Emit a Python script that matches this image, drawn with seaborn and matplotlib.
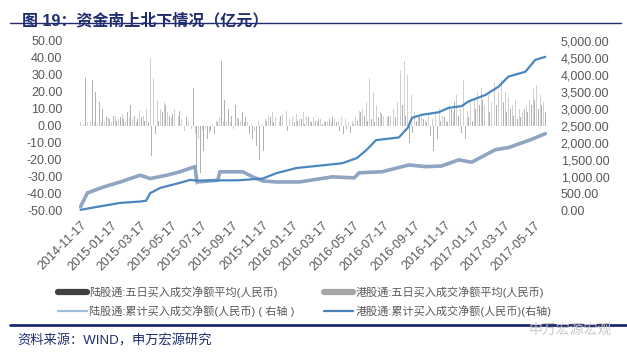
import numpy as np
import pandas as pd
import matplotlib
matplotlib.use("Agg")
import matplotlib.pyplot as plt
import matplotlib.dates as mdates
from matplotlib.lines import Line2D
from matplotlib.ticker import FuncFormatter, MultipleLocator
import seaborn as sns

# five-day average net buying (亿元), one reading per week
week_start = "2014-11-17"
north_avg = [30, 28, 31, 27, 20, 14, 10,
             5, 4, 6, 3, 5, 4,
             8, 12, 6, 4, 5, 3, 2,
             -18,
             -5, 3, 8, 12, 6,
             7, 12, 9, 4,
             5, 24, 22,
             -35, -28, -15,
             -8, -3, -5, 2,
             38, 15,
             10, 6, 12, 4, 8, 5,
             -5, -8, -12, -20, -15,
             3, 5, 2, 4, 6, 3, -3, 2,
             2, 3, 4, 1, 5, 2, 3, 4, 1, 2,
             4, 5, 2, -3, -5, -2, -4, 1, 3, 8,
             6, 3, 4, 2, 5, 7, 10, 6,
             3, 5, 8, 12, 6, -10, -4, 3, 5,
             4, 2, -6, -15, -8, 3, 5, 2,
             10, 14, 6, -4, -8, 5, 3, 10,
             12, 15, 10, 8, 6, 12, 10, 14,
             8, 10, 6, 4, 5, 10, 8, 12, 15, 10, 12, 8]
south_avg = [2, 1, 2, 3, 2, 1, 2,
             3, 5, 2, 6, 4, 7,
             3, 5, 4, 2, 9, 6, 10,
             40,
             28, 15, 10, 14, 8,
             5, 10, 6, 4,
             -3, 3, -2,
             -5, -8, -3,
             -2, -4, 1, 3,
             5, 3,
             3, 2, -2, 5, 3, 2,
             2, 1, -3, 3, 1,
             4, 6, 8, 5, 3, 7, 9, 4,
             5, 7, 4, 8, 6, 3, 5, 2, 4, 3,
             3, 2, 4, 3, 5, 4, 2, 3, 5, 9,
             10, 14, 28, 20, 12, 8, 6, 5,
             6, 10, 14, 32, 38, 30, 18, 8, 6,
             5, 3, 7, 4, 8, 10, 6, 3,
             12, 8, 18, 10, 27, 9, 14, 15,
             20, 22, 12, 18, 14, 25, 20, 27,
             20, 17, 12, 15, 10, 8, 12, 15, 22, 24, 18, 14]

# cumulative net buying (亿元, right axis)
north_cum_dates = ["2014-11-17", "2014-12-01", "2015-01-02", "2015-02-05", "2015-03-17",
                   "2015-04-06", "2015-05-10", "2015-06-05", "2015-06-25", "2015-07-05",
                   "2015-07-09", "2015-08-20", "2015-08-24", "2015-10-09", "2015-10-29",
                   "2015-11-18", "2015-12-16", "2016-01-31", "2016-04-06", "2016-05-20",
                   "2016-05-30", "2016-07-15", "2016-09-07", "2016-10-11", "2016-11-12",
                   "2016-12-16", "2017-01-11", "2017-02-28", "2017-03-26", "2017-05-11",
                   "2017-06-08"]
north_cum = [120, 530, 700, 850, 1050,
             950, 1050, 1150, 1250, 1300,
             850, 900, 1150, 1150, 1000,
             880, 850, 850, 1000, 970,
             1120, 1150, 1350, 1300, 1320,
             1500, 1430, 1800, 1860, 2100,
             2270]
south_cum_dates = ["2014-11-17", "2015-01-02", "2015-02-05", "2015-03-17", "2015-03-29",
                   "2015-04-06", "2015-04-26", "2015-06-05", "2015-06-25", "2015-07-09",
                   "2015-09-30", "2015-11-18", "2015-12-16", "2016-01-25", "2016-03-05",
                   "2016-04-26", "2016-05-25", "2016-06-13", "2016-07-03", "2016-08-18",
                   "2016-09-05", "2016-09-13", "2016-10-03", "2016-11-06", "2016-11-26",
                   "2016-12-22", "2017-01-05", "2017-02-08", "2017-03-06", "2017-03-26",
                   "2017-04-29", "2017-05-19", "2017-06-08"]
south_cum = [30, 150, 235, 275, 300,
             520, 675, 825, 910, 890,
             900, 950, 1110, 1260, 1320,
             1400, 1550, 1780, 2080, 2160,
             2450, 2735, 2825, 2900, 3030,
             3080, 3220, 3410, 3650, 3950,
             4090, 4440, 4530]

tick_dates = ["2014-11-17", "2015-01-17", "2015-03-17", "2015-05-17", "2015-07-17",
              "2015-09-17", "2015-11-17", "2016-01-17", "2016-03-17", "2016-05-17",
              "2016-07-17", "2016-09-17", "2016-11-17", "2017-01-17", "2017-03-17",
              "2017-05-17"]

sns.set_theme(style="white")
plt.rcParams['font.family'] = ['Liberation Sans', 'Noto Sans CJK SC', 'DejaVu Sans']

navy = "#1f2d6e"
tick_color = "#595959"

fig = plt.figure(figsize=(6.27, 3.55), dpi=100)
ax = fig.add_axes([0.126, 0.406, 0.746, 0.479])

weeks = pd.date_range(week_start, periods=len(north_avg), freq="7D")
ax.bar(weeks, south_avg, width=2.0, color="#d0d0d0", linewidth=0)
ax.bar(weeks + pd.Timedelta(days=3), north_avg, width=1.8, color="#b0b0b0", linewidth=0)

ax.set_ylim(-50, 50)
ax.yaxis.set_major_locator(MultipleLocator(10))
ax.yaxis.set_major_formatter(FuncFormatter(lambda v, p: f"{v:.2f}"))

ax2 = ax.twinx()
north_df = pd.DataFrame({"date": pd.to_datetime(north_cum_dates), "value": north_cum})
south_df = pd.DataFrame({"date": pd.to_datetime(south_cum_dates), "value": south_cum})
sns.lineplot(data=north_df, x="date", y="value", ax=ax2, color="#8fa5c2", linewidth=2.6)
sns.lineplot(data=south_df, x="date", y="value", ax=ax2, color="#4a86c0", linewidth=1.6)
ax2.set_ylim(0, 5000)
ax2.yaxis.set_major_locator(MultipleLocator(500))
ax2.yaxis.set_major_formatter(FuncFormatter(lambda v, p: f"{v:,.2f}"))
ax2.set_xlabel("")
ax2.set_ylabel("")

ax.set_xlim(pd.Timestamp("2014-11-14"), pd.Timestamp("2017-06-11"))
ax.set_xticks(pd.to_datetime(tick_dates))
ax.set_xticklabels(tick_dates, rotation=45, ha="right", rotation_mode="anchor")

for a in (ax, ax2):
    for s in a.spines.values():
        s.set_visible(False)
    a.tick_params(length=0, labelsize=9, colors=tick_color)
ax.tick_params(axis="x", pad=6)
ax.tick_params(axis="y", pad=12)
ax2.tick_params(axis="y", pad=10)

# legend
handles = [
    Line2D([], [], color="#404040", linewidth=4.5),
    Line2D([], [], color="#9ebfdc", linewidth=1.6),
    Line2D([], [], color="#a6a6a6", linewidth=4.5),
    Line2D([], [], color="#4a7fb8", linewidth=1.6),
]
labels = ["陆股通:五日买入成交净额平均(人民币)",
          "陆股通:累计买入成交净额(人民币) ( 右轴 )",
          "港股通:五日买入成交净额平均(人民币)",
          "港股通:累计买入成交净额(人民币)(右轴)"]
leg = fig.legend(handles, labels, ncol=2, loc="upper left",
                 bbox_to_anchor=(0.085, 0.205), frameon=False,
                 fontsize=8, handlelength=2.6, handletextpad=0.25,
                 columnspacing=2.6, labelspacing=0.6, borderaxespad=0)
for t in leg.get_texts():
    t.set_color(tick_color)

# title and source
fig.text(0.035, 0.965, "图 19：资金南上北下情况（亿元）", fontsize=11.5,
         fontweight="bold", color=navy, va="top", ha="left")
fig.add_artist(Line2D([0.016, 0.99], [0.935, 0.935], color=navy, linewidth=1.0))
fig.add_artist(Line2D([0.016, 1.0], [0.085, 0.085], color=navy, linewidth=2.0))
fig.text(0.028, 0.04, "资料来源：WIND，申万宏源研究", fontsize=9.5,
         color=navy, va="center", ha="left")
fig.text(0.975, 0.072, "申万宏源宏观", fontsize=10, color="#c8c8c8",
         va="center", ha="right")

fig.savefig("out.png", dpi=100)
